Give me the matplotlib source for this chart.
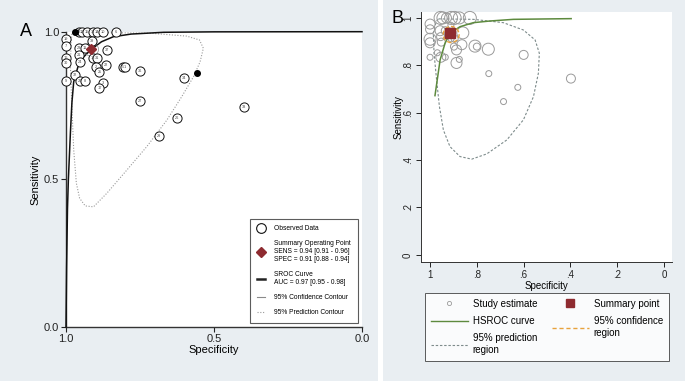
import matplotlib
matplotlib.use("Agg")
import matplotlib.pyplot as plt
from matplotlib.lines import Line2D
from matplotlib.patches import Ellipse, Rectangle
import numpy as np

plt.rcParams["font.family"] = ["Liberation Sans", "DejaVu Sans"]

# ---- study estimates (specificity, sensitivity), label in panel A, radius in panel B
study_spec = [0.955, 0.945, 0.93, 0.91, 0.895, 0.875, 0.83,
              1.0, 1.0, 1.0, 1.0, 1.0,
              0.957, 0.935, 0.911, 0.86, 0.955, 0.91, 0.895, 0.952, 0.898,
              0.864, 0.887, 0.808, 0.80, 0.751, 0.969, 0.954, 0.935, 0.875,
              0.887, 0.749, 0.625, 0.686, 0.60, 0.398]
study_sens = [1.0, 1.0, 1.0, 1.0, 1.0, 1.0, 1.0,
              0.974, 0.952, 0.91, 0.895, 0.834,
              0.946, 0.946, 0.969, 0.937, 0.921, 0.912, 0.912, 0.898, 0.879,
              0.887, 0.865, 0.881, 0.879, 0.868, 0.853, 0.834, 0.834, 0.825,
              0.81, 0.765, 0.707, 0.647, 0.844, 0.744]
study_id = ["13", "12", "15", "35", "14", "10", "6",
            "19", "7", "16", "30", "9",
            "23", "11", "39", "37", "21", "18", "31", "24", "2",
            "22", "25", "5", "1", "36", "32", "20", "8", "3",
            "17", "27", "26", "29", "34", "33"]
study_radius_b = [6.5, 6, 5, 6.5, 6.5, 6, 6.5,
                  5, 4.5, 6, 5, 3,
                  5, 4, 3, 6, 4, 3, 3.5, 4, 3.5,
                  5, 5, 6, 3.5, 6, 3, 5, 3, 3,
                  5.5, 3, 3, 3, 4.5, 4.5]

# filled markers in panel A
dot_spec = [0.97, 0.558]
dot_sens = [1.0, 0.859]

# summary operating point
sum_spec, sum_sens = 0.915, 0.94

# SROC curve (panel A)
sroc_spec = [1.0, 0.998, 0.995, 0.992, 0.985, 0.98, 0.974, 0.96, 0.94, 0.915,
             0.88, 0.84, 0.78, 0.67, 0.5, 0.0]
sroc_sens = [0.0, 0.2, 0.4, 0.5, 0.66, 0.76, 0.83, 0.88, 0.915, 0.94,
             0.966, 0.983, 0.992, 0.998, 0.9995, 1.0]

# 95% prediction contour (panel A)
predA_spec = [0.98, 0.884, 0.716, 0.592, 0.549, 0.536, 0.547, 0.569, 0.609,
              0.659, 0.727, 0.794, 0.862, 0.907, 0.935, 0.954, 0.965, 0.974,
              0.981, 0.985, 0.983, 0.98]
predA_sens = [0.995, 0.997, 0.995, 0.985, 0.972, 0.944, 0.898, 0.848, 0.78,
              0.701, 0.611, 0.532, 0.453, 0.407, 0.41, 0.436, 0.487, 0.60,
              0.769, 0.881, 0.961, 0.995]

# HSROC curve (panel B)
hsroc_spec = [0.979, 0.957, 0.936, 0.915, 0.872, 0.815, 0.744, 0.644, 0.397]
hsroc_sens = [0.672, 0.823, 0.893, 0.935, 0.963, 0.98, 0.987, 0.994, 0.997]

# 95% prediction region (panel B)
predB_spec = [0.964, 0.815, 0.687, 0.601, 0.551, 0.533, 0.537, 0.558, 0.601,
              0.672, 0.758, 0.822, 0.872, 0.915, 0.943, 0.96, 0.972, 0.983,
              0.986, 0.974, 0.964]
predB_sens = [0.996, 0.994, 0.98, 0.949, 0.907, 0.851, 0.767, 0.668, 0.57,
              0.485, 0.426, 0.404, 0.415, 0.457, 0.527, 0.626, 0.738, 0.851,
              0.935, 0.984, 0.996]

BG = "#e9eef2"
RED = "#8e2b30"
GREEN = "#5d8a3e"
ORANGE = "#e8a23c"
GREY = "#7d8b8b"

fig = plt.figure(figsize=(6.85, 3.81), dpi=100, facecolor=BG)
fig.add_artist(Rectangle((378 / 685, 0), 4.5 / 685, 1, transform=fig.transFigure,
                         facecolor="white", edgecolor="none"))

# ---------------- panel A ----------------
axA = fig.add_axes([66 / 685, 1 - 327 / 381, 296 / 685, 295.3 / 381])
axA.set_xlim(1.0, 0.0)
axA.set_ylim(0.0, 1.0)
for s in ("top", "right"):
    axA.spines[s].set_visible(False)
for s in ("left", "bottom"):
    axA.spines[s].set_linewidth(1.0)
    axA.spines[s].set_color("#333333")
axA.set_xticks([1.0, 0.5, 0.0])
axA.set_yticks([0.0, 0.5, 1.0])
axA.set_xticklabels(["1.0", "0.5", "0.0"])
axA.set_yticklabels(["0.0", "0.5", "1.0"])
axA.tick_params(length=3.5, width=0.8, labelsize=8, colors="#222222", pad=1.5)
axA.set_xlabel("Specificity", fontsize=8, labelpad=1)
axA.set_ylabel("Sensitivity", fontsize=8, labelpad=2)

axA.plot(predA_spec, predA_sens, ls=(0, (1, 1.5)), color="#9a9a9a", lw=0.8, zorder=2)
axA.plot(sroc_spec, sroc_sens, color="#111111", lw=1.1, zorder=3, clip_on=False)
axA.add_patch(Ellipse((sum_spec, sum_sens), 0.05, 0.045, fill=False,
                      edgecolor="#8a8a8a", lw=0.5, zorder=3))
axA.plot(study_spec, study_sens, "o", ms=6.6, mfc="white", mec="#111111", mew=0.7,
         ls="none", zorder=4, clip_on=False)
for x, y, t in zip(study_spec, study_sens, study_id):
    axA.text(x, y, t, fontsize=2.8, ha="center", va="center", color="#444444",
             zorder=5, clip_on=False)
axA.plot(dot_spec, dot_sens, "o", ms=4, color="black", ls="none", zorder=6,
         clip_on=False)
axA.plot(sum_spec, sum_sens, "D", ms=5.5, color=RED, zorder=7)

handlesA = [
    Line2D([], [], ls="none", marker="o", ms=7, mfc="white", mec="#111111", mew=0.8),
    Line2D([], [], ls="none", marker="D", ms=5, color=RED),
    Line2D([], [], color="#222222", lw=1.8),
    Line2D([], [], color="#8a8a8a", lw=0.8),
    Line2D([], [], color="#9a9a9a", lw=0.8, ls=(0, (1, 1.5))),
]
labelsA = [
    "Observed Data",
    "Summary Operating Point\nSENS = 0.94 [0.91 - 0.96]\nSPEC = 0.91 [0.88 - 0.94]",
    "SROC Curve\nAUC = 0.97 [0.95 - 0.98]",
    "95% Confidence Contour",
    "95% Prediction Contour",
]
legA = axA.legend(handlesA, labelsA, loc="lower right", bbox_to_anchor=(0.986, 0.013),
                  fontsize=4.8, frameon=True, fancybox=False, edgecolor="#333333",
                  handlelength=1.2, handletextpad=1.4, labelspacing=1.2,
                  borderpad=1.0, borderaxespad=0)
legA.get_frame().set_linewidth(0.8)
fig.text(20 / 685, 1 - 31.5 / 381, "A", fontsize=13, ha="left", va="center")

# ---------------- panel B ----------------
axB = fig.add_axes([420.7 / 685, 1 - 262 / 381, 251.3 / 685, 250 / 381])
axB.set_xlim(1.04, -0.034)
axB.set_ylim(-0.03, 1.025)
for s in ("top", "right"):
    axB.spines[s].set_visible(False)
for s in ("left", "bottom"):
    axB.spines[s].set_linewidth(0.7)
    axB.spines[s].set_color("#333333")
ticksB = [1.0, 0.8, 0.6, 0.4, 0.2, 0.0]
ticklabB = ["1", ".8", ".6", ".4", ".2", "0"]
axB.set_xticks(ticksB)
axB.set_xticklabels(ticklabB)
axB.set_yticks(ticksB)
axB.set_yticklabels(ticklabB, rotation=90, va="center")
axB.tick_params(length=3.5, width=0.7, labelsize=7, colors="#222222", pad=2)
axB.set_xlabel("Specificity", fontsize=7, labelpad=1)
axB.set_ylabel("Sensitivity", fontsize=7)
axB.yaxis.set_label_coords(-0.07, 0.58)

sizesB = [(2 * r * 0.72) ** 2 for r in study_radius_b]
axB.scatter(study_spec, study_sens, s=sizesB, facecolors="none",
            edgecolors="#9a9a9a", linewidths=0.7, zorder=3, clip_on=False)
axB.plot(predB_spec, predB_sens, ls=(0, (2.2, 1.6)), color=GREY, lw=0.8, zorder=2)
axB.plot(hsroc_spec, hsroc_sens, color=GREEN, lw=1.1, zorder=4)
axB.add_patch(Ellipse((0.91, 0.93), 0.068, 0.068, fill=False, edgecolor=ORANGE,
                      lw=1.0, ls=(0, (3, 1.5)), zorder=5))
axB.plot(sum_spec, 0.935, "s", ms=6.5, color=RED, zorder=6)

handlesB = [
    Line2D([], [], ls="none", marker="o", ms=3, mfc="none", mec="#9a9a9a", mew=0.6),
    Line2D([], [], color=GREEN, lw=1.0),
    Line2D([], [], color=GREY, lw=0.8, ls=(0, (2.2, 1.6))),
    Line2D([], [], ls="none", marker="s", ms=6, color=RED),
    Line2D([], [], color=ORANGE, lw=1.0, ls=(0, (3, 2))),
]
labelsB = ["Study estimate", "HSROC curve", "95% prediction\nregion",
           "Summary point", "95% confidence\nregion"]
legB = fig.legend(handlesB, labelsB, ncol=2, loc="upper left",
                  bbox_to_anchor=(425 / 685, 1 - 293 / 381),
                  bbox_transform=fig.transFigure,
                  fontsize=7, frameon=True, fancybox=False, edgecolor="#333333",
                  handlelength=3.8, handletextpad=0.5, columnspacing=1.5,
                  labelspacing=0.75, borderpad=0.6, borderaxespad=0)
legB.get_frame().set_linewidth(0.7)
fig.text(391.5 / 685, 1 - 18.3 / 381, "B", fontsize=13, ha="left", va="center")

fig.savefig("out.png", dpi=100, facecolor=BG)
